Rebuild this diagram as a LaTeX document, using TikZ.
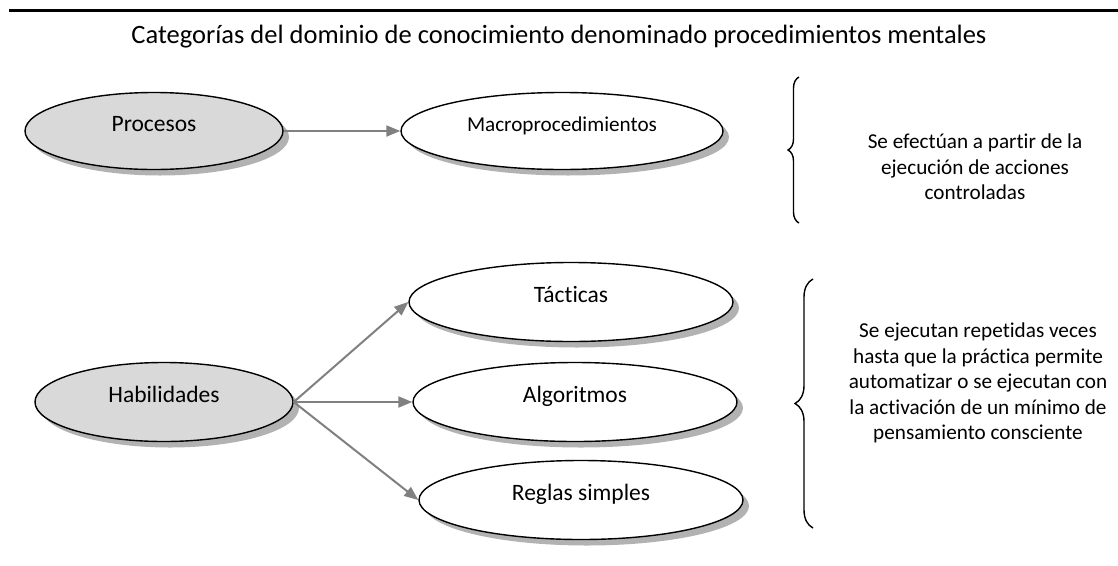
\documentclass[tikz,border=0pt]{standalone}
\usepackage{fontspec}
\setmainfont[Ligatures={NoCommon}]{Carlito}
\usetikzlibrary{arrows.meta,shapes.geometric,shadows,decorations.pathreplacing}

\begin{document}
\begin{tikzpicture}[x=1pt, y=-1pt, thick, >={Triangle[length=14pt,width=11pt]},
  every text node part/.style={align=center},
  elip/.style={draw, ellipse, line width=1.4pt, inner sep=0pt, minimum width=324pt, minimum height=79pt, fill=white,
    drop shadow={shadow xshift=6pt, shadow yshift=-6pt, fill=black!30, opacity=1},
    font=\fontsize{23.5}{28}\selectfont, text height=8pt, text depth=8pt},
  elipgris/.style={elip, fill=black!15, minimum width=258pt},
  flecha/.style={->, line width=2pt, color=black!50},
  llave/.style={decorate, decoration={brace, amplitude=#1}, line width=1.4pt},
  nota/.style={font=\fontsize{21.2}{25.6}\selectfont}]
\useasboundingbox (0,0) rectangle (1118,565);
\draw[line width=3pt] (9,10) -- (1118,10);
\draw
  node at (559,37)(titulo){\fontsize{26.5}{30}\selectfont Categorías del dominio de conocimiento denominado procedimientos mentales}
  node at (154,131)[elipgris, minimum height=77pt](procesos){Procesos}
  node at (562,131)[elip, minimum width=322pt, minimum height=77pt, font=\fontsize{21.2}{25}\selectfont](macro){Macroprocedimientos}
  node at (164,402)[elipgris](habilidades){Habilidades}
  node at (571,302)[elip](tacticas){Tácticas}
  node at (575,402)[elip](algoritmos){Algoritmos}
  node at (581,500)[elip](reglas){Reglas simples}
  node at (975,167)[nota](nota1){Se efectúan a partir de la \\ ejecución de acciones \\ controladas}
  node at (978,383)[nota](nota2){Se ejecutan repetidas veces \\ hasta que la práctica permite \\ automatizar o se ejecutan con \\ la activación de un mínimo de \\ pensamiento consciente};
  \draw[flecha] (procesos) -- (macro);
  \draw[flecha] (habilidades.east) -- (tacticas.west);
  \draw[flecha] (habilidades.east) -- (algoritmos.west);
  \draw[flecha] (habilidades.east) -- (reglas.west);
  % llaves
  \coordinate (llave1a) at (799,223);
  \coordinate (llave1b) at (799,77);
  \coordinate (llave2a) at (813,528);
  \coordinate (llave2b) at (813,279);
  \draw[llave=11pt] (llave1a) -- (llave1b);
  \draw[llave=18pt] (llave2a) -- (llave2b);
\end{tikzpicture}
\end{document}
